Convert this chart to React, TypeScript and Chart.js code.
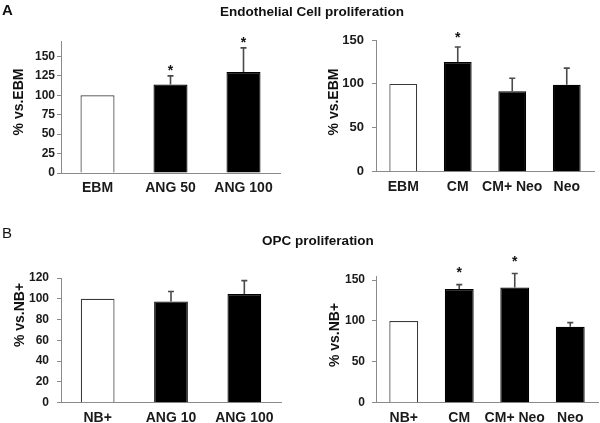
import React, { useEffect, useRef } from 'react';
import { Chart, registerables } from 'chart.js';

Chart.register(...registerables);

const FONT = '"Liberation Sans", Arial, sans-serif';

// Panel A – left: angiopoietin on endothelial cells
const endoAngCategories = ['EBM', 'ANG 50', 'ANG 100'];
const endoAngValues = [100, 114, 130];
const endoAngErrors = [0, 11, 31];
const endoAngStars = ['', '*', '*'];
const endoAngTicks = [0, 25, 50, 75, 100, 125, 150];

// Panel A – right: conditioned medium on endothelial cells
const endoCmCategories = ['EBM', 'CM', 'CM+ Neo', 'Neo'];
const endoCmValues = [100, 125, 91.5, 99];
const endoCmErrors = [0, 17, 15, 19];
const endoCmStars = ['', '*', '', ''];
const endoCmTicks = [0, 50, 100, 150];

// Panel B – left: angiopoietin on OPC
const opcAngCategories = ['NB+', 'ANG 10', 'ANG 100'];
const opcAngValues = [100, 97.5, 104.5];
const opcAngErrors = [0, 9.5, 13];
const opcAngStars = ['', '', ''];
const opcAngTicks = [0, 20, 40, 60, 80, 100, 120];

// Panel B – right: conditioned medium on OPC
const opcCmCategories = ['NB+', 'CM', 'CM+ Neo', 'Neo'];
const opcCmValues = [100, 139, 141, 93];
const opcCmErrors = [0, 5.5, 17, 5];
const opcCmStars = ['', '*', '*', ''];
const opcCmTicks = [0, 50, 100, 150];

type Panel = {
  categories: string[];
  values: number[];
  errors: number[];
  stars: string[];
  ticks: number[];
  yMax: number;
  area: { left: number; top: number; right: number; bottom: number };
  tickPad: number;
  tickSize: number;
  barPct: number;
  starGap: number;
};

const panels: Panel[] = [
  {
    categories: endoAngCategories, values: endoAngValues, errors: endoAngErrors, stars: endoAngStars,
    ticks: endoAngTicks, yMax: 169,
    area: { left: 61, top: 41.7, right: 280, bottom: 173 }, tickPad: 2, tickSize: 12, barPct: 0.466, starGap: 9,
  },
  {
    categories: endoCmCategories, values: endoCmValues, errors: endoCmErrors, stars: endoCmStars,
    ticks: endoCmTicks, yMax: 150,
    area: { left: 376, top: 40, right: 594, bottom: 171.7 }, tickPad: 8, tickSize: 13, barPct: 0.51, starGap: 13,
  },
  {
    categories: opcAngCategories, values: opcAngValues, errors: opcAngErrors, stars: opcAngStars,
    ticks: opcAngTicks, yMax: 120,
    area: { left: 61, top: 278, right: 281, bottom: 402.7 }, tickPad: 8, tickSize: 12, barPct: 0.46, starGap: 12,
  },
  {
    categories: opcCmCategories, values: opcCmValues, errors: opcCmErrors, stars: opcCmStars,
    ticks: opcCmTicks, yMax: 155,
    area: { left: 376, top: 276, right: 598, bottom: 402.7 }, tickPad: 7, tickSize: 12, barPct: 0.52, starGap: 15.5,
  },
];

const W = 600;
const H = 423;
const Y_AXIS_W = 50;
const X_AXIS_H = 30;

function PanelChart({ p }: { p: Panel }) {
  const ref = useRef<HTMLCanvasElement | null>(null);
  useEffect(() => {
    if (!ref.current) return;
    const errorPlugin = {
      id: 'errorBarsStars',
      afterDatasetsDraw(chart: any) {
        const ctx = chart.ctx;
        const meta = chart.getDatasetMeta(0);
        const ys = chart.scales.y;
        ctx.save();
        meta.data.forEach((bar: any, i: number) => {
          const v = p.values[i];
          const e = p.errors[i];
          const x = bar.x;
          const yTop = ys.getPixelForValue(v + e);
          if (e > 0) {
            ctx.strokeStyle = '#4a4a4a';
            ctx.lineWidth = 1.6;
            ctx.beginPath();
            ctx.moveTo(x, ys.getPixelForValue(v));
            ctx.lineTo(x, yTop);
            ctx.moveTo(x - 3, yTop);
            ctx.lineTo(x + 3, yTop);
            ctx.stroke();
          }
          if (p.stars[i]) {
            ctx.fillStyle = '#111';
            ctx.font = 'bold 14px ' + FONT;
            ctx.textAlign = 'center';
            ctx.textBaseline = 'alphabetic';
            ctx.fillText(p.stars[i], x, yTop - p.starGap + 8);
          }
        });
        ctx.restore();
      },
    };
    const chart = new Chart(ref.current, {
      type: 'bar',
      data: {
        labels: p.categories,
        datasets: [
          {
            data: p.values,
            backgroundColor: p.values.map((_, i) => (i === 0 ? '#ffffff' : '#000000')),
            borderColor: p.values.map((_, i) => (i === 0 ? '#3a3a3a' : '#000000')),
            borderWidth: 1.2,
            categoryPercentage: 1,
            barPercentage: p.barPct,
          },
        ],
      },
      options: {
        responsive: false,
        animation: false,
        events: [],
        layout: {
          padding: {
            left: p.area.left - Y_AXIS_W,
            top: p.area.top,
            right: W - p.area.right,
            bottom: H - p.area.bottom - X_AXIS_H,
          },
        },
        plugins: { legend: { display: false }, tooltip: { enabled: false }, title: { display: false } },
        scales: {
          x: {
            type: 'category',
            offset: true,
            grid: { display: false, drawTicks: false },
            border: { display: true, color: '#8a8a8a', width: 1 },
            ticks: {
              color: '#1a1a1a',
              padding: 7,
              maxRotation: 0,
              autoSkip: false,
              font: { family: FONT, size: 14, weight: 'bold' },
            },
            afterFit: (s: any) => {
              s.height = X_AXIS_H;
            },
          },
          y: {
            min: 0,
            max: p.yMax,
            grid: { drawOnChartArea: false, drawTicks: true, tickLength: 4, color: '#8a8a8a' },
            border: { display: true, color: '#8a8a8a', width: 1 },
            ticks: {
              color: '#1a1a1a',
              padding: p.tickPad,
              font: { family: FONT, size: p.tickSize, weight: 'bold' },
            },
            afterBuildTicks: (s: any) => {
              s.ticks = p.ticks.map((v) => ({ value: v }));
            },
            afterFit: (s: any) => {
              s.width = Y_AXIS_W;
            },
          },
        },
      } as any,
      plugins: [errorPlugin],
    });
    return () => chart.destroy();
  }, [p]);
  return (
    <canvas
      ref={ref}
      width={W}
      height={H}
      style={{ position: 'absolute', left: 0, top: 0, width: W, height: H, pointerEvents: 'none' }}
    />
  );
}

const textBase: React.CSSProperties = {
  position: 'absolute',
  fontFamily: FONT,
  lineHeight: 1,
  whiteSpace: 'nowrap',
  color: '#111',
};

function YTitle({ text, cx, cy }: { text: string; cx: number; cy: number }) {
  return (
    <div
      style={{
        ...textBase,
        left: cx,
        top: cy,
        fontSize: 14,
        fontWeight: 'bold',
        transform: 'translate(-50%, -50%) rotate(-90deg)',
      }}
    >
      {text}
    </div>
  );
}

export default function App() {
  return (
    <div style={{ position: 'fixed', left: 0, top: 0, width: W, height: H, background: '#fff', overflow: 'hidden' }}>
      {panels.map((p, i) => (
        <PanelChart key={i} p={p} />
      ))}
      <div style={{ ...textBase, left: 2, top: 1.5, fontSize: 15, fontWeight: 'bold' }}>A</div>
      <div style={{ ...textBase, left: 2, top: 225, fontSize: 15 }}>B</div>
      <div style={{ ...textBase, left: 162, width: 300, top: 4.5, fontSize: 13.5, fontWeight: 'bold', textAlign: 'center' }}>
        Endothelial Cell proliferation
      </div>
      <div style={{ ...textBase, left: 168, width: 300, top: 234, fontSize: 13.5, fontWeight: 'bold', textAlign: 'center' }}>
        OPC proliferation
      </div>
      <YTitle text="% vs.EBM" cx={17.5} cy={102} />
      <YTitle text="% vs.EBM" cx={332.5} cy={102} />
      <YTitle text="% vs.NB+" cx={19} cy={314.5} />
      <YTitle text="% vs.NB+" cx={334} cy={335} />
    </div>
  );
}
